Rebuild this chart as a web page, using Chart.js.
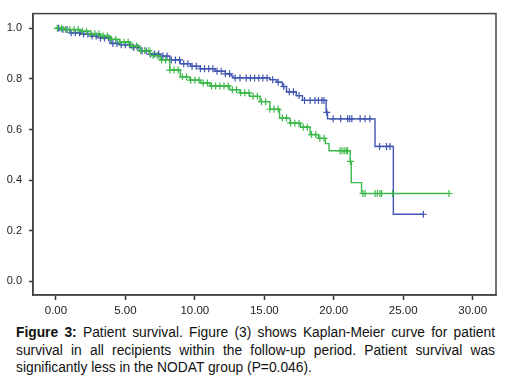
<!DOCTYPE html>
<html>
<head>
<meta charset="utf-8">
<script src="https://cdn.jsdelivr.net/npm/chart.js@4.4.1/dist/chart.umd.min.js"></script>
<style>
  html, body { margin: 0; padding: 0; background: #fff; }
  #wrap { position: absolute; left: 0; top: 0; width: 506px; height: 318px; }
  #caption { position: absolute; left: 16px; top: 324px; width: 479px; font-family: "Liberation Sans", Arial, sans-serif; font-size: 13.8px; line-height: 17.5px; color: #111; }
  #caption div { white-space: nowrap; }
  #caption .j { text-align: justify; text-align-last: justify; }
</style>
</head>
<body>
<div id="wrap"><canvas id="c" width="506" height="318"></canvas></div>
<div id="caption">
  <div class="j"><b>Figure 3:</b> Patient survival. Figure (3) shows Kaplan-Meier curve for patient</div>
  <div class="j">survival in all recipients within the follow-up period. Patient survival was</div>
  <div>significantly less in the NODAT group (P=0.046).</div>
</div>
<script>
// Step points (time, survival) – blue group
const blueTimes = [0, 0.3, 1.0, 1.75, 2.5, 3.2, 3.9, 4.6, 5.35, 6.1, 6.8, 7.5, 8.2, 8.95, 9.7, 10.4, 11.45, 12.2, 12.6, 12.75, 15.4, 15.9, 16.3, 16.6, 17.3, 17.75, 19.45, 19.55, 22.97, 24.29, 26.45];
const blueSurv  = [1.0, 0.995, 0.982, 0.977, 0.969, 0.962, 0.94, 0.935, 0.924, 0.91, 0.898, 0.89, 0.875, 0.86, 0.85, 0.84, 0.83, 0.82, 0.812, 0.804, 0.797, 0.787, 0.77, 0.749, 0.734, 0.715, 0.668, 0.642, 0.533, 0.265, 0.265];
// Step points – green group (NODAT)
const greenTimes = [0, 0.67, 1.75, 2.5, 3.2, 3.9, 4.6, 5.35, 6.05, 6.8, 7.5, 8.2, 8.95, 9.65, 10.4, 11.1, 12.5, 13.25, 13.95, 14.7, 15.4, 16.1, 16.85, 17.6, 18.3, 18.9, 19.4, 19.66, 21.18, 21.26, 22.0, 28.3];
const greenSurv  = [1.0, 0.995, 0.988, 0.978, 0.969, 0.956, 0.945, 0.93, 0.912, 0.892, 0.875, 0.835, 0.808, 0.795, 0.784, 0.772, 0.757, 0.745, 0.731, 0.71, 0.68, 0.645, 0.625, 0.609, 0.58, 0.565, 0.544, 0.516, 0.474, 0.39, 0.347, 0.347];
// Censored observation times
const blueCensor = [0.2,0.5,0.8,1.1,1.4,1.7,2.0,2.3,2.6,2.9,3.2,3.5,3.8,4.1,4.4,4.7,5.0,5.3,5.6,5.9,6.2,6.5,6.8,7.1,7.4,7.7,8.0,8.3,8.6,8.9,9.2,9.5,9.8,10.1,10.4,10.7,11.0,11.3,11.6,11.9,12.2,12.5,12.9,13.25,13.7,14.0,14.3,14.6,14.9,15.2,15.6,16.0,16.4,16.8,17.1,17.5,17.9,18.3,18.65,18.9,19.15,19.3,19.5,19.96,20.5,21.0,21.15,21.3,21.9,22.25,22.6,23.3,23.8,24.05,26.45];
const greenCensor = [0.1,0.4,0.7,1.0,1.3,1.6,1.9,2.2,2.5,2.8,3.1,3.4,3.7,4.0,4.3,4.6,4.9,5.2,5.5,5.8,6.1,6.4,6.7,7.0,7.3,7.6,7.9,8.2,8.5,8.8,9.1,9.4,9.7,10.0,10.3,10.6,10.9,11.2,11.5,11.8,12.1,12.4,12.7,13.0,13.3,13.6,13.9,14.2,14.5,14.8,15.1,15.4,15.7,16.0,16.3,16.6,16.9,17.2,17.5,17.8,18.1,18.4,18.7,19.0,19.3,20.45,20.6,20.75,20.9,21.0,21.2,22.1,22.26,22.97,23.14,23.33,23.45,24.24,28.3];
// Tick labels
const xTicks = [0, 5, 10, 15, 20, 25, 30];
const yTicks = [0, 0.2, 0.4, 0.6, 0.8, 1.0];

const BLUE = '#4256b3';
const GREEN = '#3cb84b';

function survAt(times, surv, t) {
  let s = surv[0];
  for (let i = 0; i < times.length; i++) { if (times[i] <= t) s = surv[i]; }
  return s;
}
const pts = (ts, ss) => ts.map((t, i) => ({ x: t, y: ss[i] }));
const cens = (cs, ts, ss) => cs.map(t => ({ x: t, y: survAt(ts, ss, t) }));

const boxPlugin = {
  id: 'box',
  afterDraw(chart) {
    const a = chart.chartArea, ctx = chart.ctx;
    ctx.save();
    ctx.strokeStyle = '#444';
    ctx.lineWidth = 1.5;
    ctx.strokeRect(a.left, a.top, a.right - a.left, a.bottom - a.top);
    ctx.restore();
  }
};

new Chart(document.getElementById('c'), {
  type: 'line',
  data: {
    datasets: [
      { data: cens(greenCensor, greenTimes, greenSurv), showLine: false, pointStyle: 'cross', pointRadius: 3.5, pointBorderWidth: 1.2, borderColor: GREEN, backgroundColor: GREEN },
      { data: pts(greenTimes, greenSurv), stepped: 'before', borderColor: GREEN, borderWidth: 1.4, pointRadius: 0, fill: false },
      { data: cens(blueCensor, blueTimes, blueSurv), showLine: false, pointStyle: 'cross', pointRadius: 3.5, pointBorderWidth: 1.2, borderColor: BLUE, backgroundColor: BLUE },
      { data: pts(blueTimes, blueSurv), stepped: 'before', borderColor: BLUE, borderWidth: 1.4, pointRadius: 0, fill: false }
    ]
  },
  options: {
    responsive: false,
    animation: false,
    layout: { padding: { top: 7, right: 10, left: 0, bottom: 0 } },
    plugins: { legend: { display: false }, tooltip: { enabled: false } },
    scales: {
      x: {
        type: 'linear', min: -1.65, max: 31.68,
        afterBuildTicks: s => { s.ticks = xTicks.map(v => ({ value: v })); },
        afterFit: s => { s.height = 23; },
        ticks: { callback: v => Number(v).toFixed(2), font: { family: '"Liberation Sans", Arial, sans-serif', size: 11.5 }, color: '#222', padding: 4, maxRotation: 0, autoSkip: false },
        grid: { drawOnChartArea: false, tickLength: 5, tickColor: '#333', tickWidth: 1.5 },
        border: { color: '#444', width: 1.5 }
      },
      y: {
        type: 'linear', min: -0.054, max: 1.058,
        afterBuildTicks: s => { s.ticks = yTicks.map(v => ({ value: v })); },
        afterFit: s => { s.width = 33; },
        ticks: { callback: v => Number(v).toFixed(1), font: { family: '"Liberation Sans", Arial, sans-serif', size: 11 }, color: '#222', padding: 7, autoSkip: false },
        grid: { drawOnChartArea: false, tickLength: 4, tickColor: '#333', tickWidth: 1.5 },
        border: { color: '#444', width: 1.5 }
      }
    }
  },
  plugins: [boxPlugin]
});
</script>
</body>
</html>
